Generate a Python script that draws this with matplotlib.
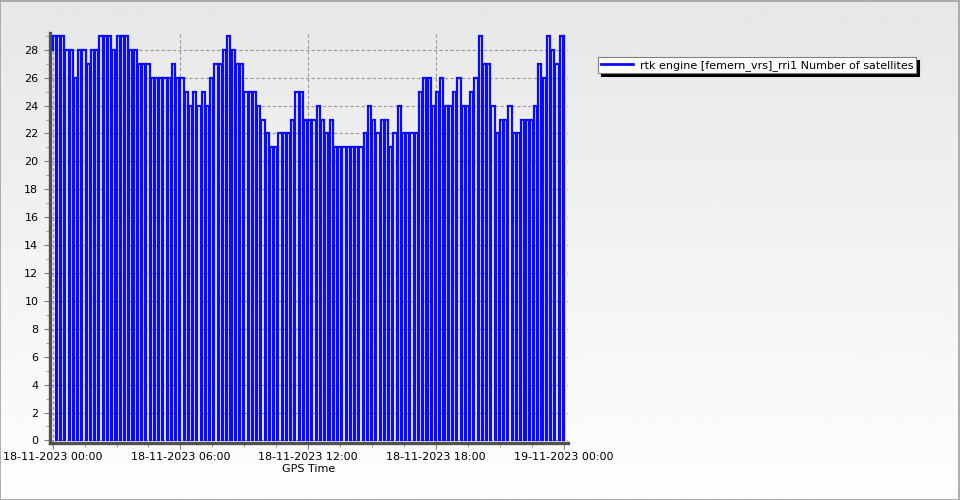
#!/usr/bin/env python3
"""Number of satellites over one day (rtk engine), saved as out.png."""

import numpy as np
import matplotlib
matplotlib.use("Agg")
import matplotlib.pyplot as plt
import matplotlib.dates as mdates
from matplotlib.ticker import MultipleLocator
from matplotlib.patches import Rectangle

# Satellite count per 12-minute block, 18-11-2023 00:00 -> 19-11-2023 00:00
nsat = [
    29, 29, 29, 28, 28, 26, 28, 28, 27, 28,
    28, 29, 29, 29, 28, 29, 29, 29, 28, 28,
    27, 27, 27, 26, 26, 26, 26, 26, 27, 26,
    26, 25, 24, 25, 24, 25, 24, 26, 27, 27,
    28, 29, 28, 27, 27, 25, 25, 25, 24, 23,
    22, 21, 21, 22, 22, 22, 23, 25, 25, 23,
    23, 23, 24, 23, 22, 23, 21, 21, 21, 21,
    21, 21, 21, 22, 24, 23, 22, 23, 23, 21,
    22, 24, 22, 22, 22, 22, 25, 26, 26, 24,
    25, 26, 24, 24, 25, 26, 24, 24, 25, 26,
    29, 27, 27, 24, 22, 23, 23, 24, 22, 22,
    23, 23, 23, 24, 27, 26, 29, 28, 27, 29,
]
start = np.datetime64("2023-11-18T00:00")
block_min = 12
drop_min = 3.0
series_label = "rtk engine [femern_vrs]_rri1 Number of satellites"

# build the step line: hold the count, drop to 0 at the end of each block
times, values = [start], [28]
for i, v in enumerate(nsat):
    t0 = start + np.timedelta64(i * block_min, "m")
    t_end = t0 + np.timedelta64(block_min, "m")
    t_drop = t_end - np.timedelta64(int(drop_min * 60), "s")
    times += [t0, t_drop, t_drop, t_end]
    values += [v, v, 0, 0]
times.append(times[-1])
values.append(nsat[-1])
times = np.array(times, dtype="datetime64[s]").astype("datetime64[us]").astype(object)

fig = plt.figure(figsize=(9.6, 5.0), dpi=100)

# grey-to-white background gradient
bg = fig.add_axes([0, 0, 1, 1], zorder=-10)
grad = np.linspace(0.905, 0.995, 256).reshape(-1, 1)
bg.imshow(grad, aspect="auto", cmap="gray", vmin=0, vmax=1,
          extent=[0, 1, 0, 1], origin="upper")
bg.set_axis_off()
fig.patches.append(Rectangle((0.0005, 0.001), 0.998, 0.997, transform=fig.transFigure,
                             fill=False, edgecolor="#a0a0a0", linewidth=1.2))

ax = fig.add_axes([0.0516, 0.115, 0.540, 0.819])
ax.patch.set_alpha(0)

ax.plot(times, values, color="#0a0aff", linewidth=1.6, solid_joinstyle="miter",
        label=series_label, zorder=3)

day0 = mdates.date2num(start.astype(object))
ax.set_xlim(day0 - 0.006, day0 + 1.008)
ax.set_ylim(-0.15, 29.2)

ax.xaxis.set_major_locator(MultipleLocator(0.25))
ax.xaxis.set_minor_locator(MultipleLocator(1.5 / 24))
ax.xaxis.set_major_formatter(mdates.DateFormatter("%d-%m-%Y %H:%M"))
ax.yaxis.set_major_locator(MultipleLocator(2))
ax.yaxis.set_minor_locator(MultipleLocator(1))

ax.grid(True, which="major", color="#9a9a9a", linestyle=(0, (3, 2)), linewidth=0.8)
ax.set_axisbelow(True)

for side in ["top", "right"]:
    ax.spines[side].set_visible(False)
for side in ["left", "bottom"]:
    ax.spines[side].set_color("#505050")
    ax.spines[side].set_linewidth(2.4)

ax.tick_params(which="major", length=4, width=0.8, color="#808080", labelsize=8,
               labelcolor="#000000", pad=3)
ax.tick_params(which="minor", length=3, width=0.8, color="#a0a0a0")
ax.tick_params(axis="y", pad=4)

ax.set_xlabel("GPS Time", fontsize=8, labelpad=1)

leg = ax.legend(loc="upper left", bbox_to_anchor=(0.623, 0.886),
                bbox_transform=fig.transFigure, fontsize=8, frameon=True,
                fancybox=False, shadow={"color": "black", "alpha": 1.0},
                framealpha=1, edgecolor="#808080", handlelength=2.9,
                borderpad=0.25, borderaxespad=0, handletextpad=0.6)
leg.get_frame().set_linewidth(0.8)
for line in leg.get_lines():
    line.set_linewidth(2)

fig.savefig("out.png", dpi=100)
